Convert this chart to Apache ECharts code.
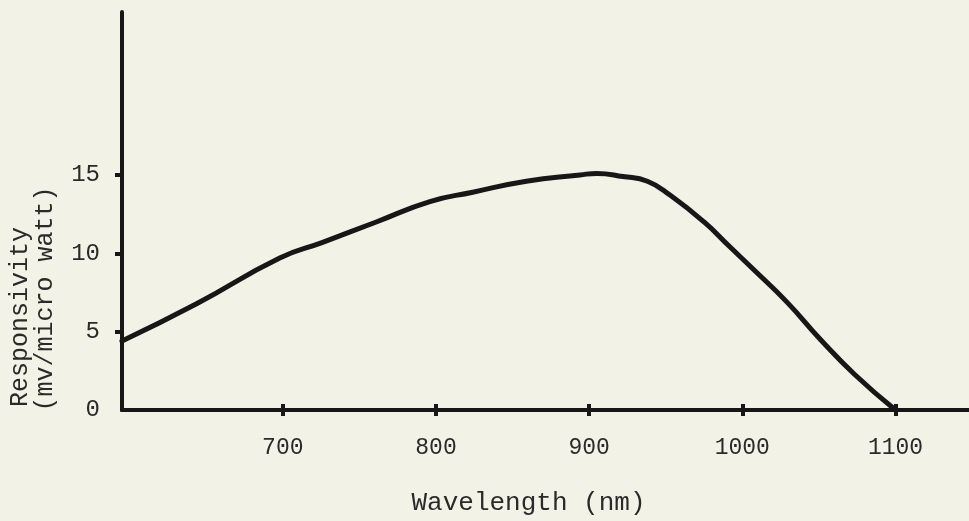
<!DOCTYPE html>
<html>
<head>
<meta charset="utf-8">
<script src="https://cdn.jsdelivr.net/npm/echarts@6/dist/echarts.min.js"></script>
<style>
html,body{margin:0;padding:0;background:#f3f2e7;}
#c{width:969px;height:521px;}
</style>
</head>
<body>
<div id="c"></div>
<script>
// Data
var wavelength = [595, 644, 698, 726, 761, 796, 824, 859, 894, 905, 922, 938, 953, 975, 992, 1007, 1029, 1051, 1073, 1100];
var responsivity = [4.4, 6.8, 9.7, 10.7, 12.0, 13.3, 13.9, 14.6, 15.0, 15.1, 14.9, 14.6, 13.7, 12.0, 10.4, 9.0, 6.9, 4.5, 2.3, 0];
var xTicks = [700, 800, 900, 1000, 1100];
var yTickLabels = [0, 5, 10, 15];
var yTicks = [5, 10, 15];
var xTitle = 'Wavelength (nm)';
var yTitle1 = 'Responsivity';
var yTitle2 = '(mv/micro watt)';

var ink = '#171717';
var font = '"Liberation Mono", "DejaVu Sans Mono", monospace';
var points = wavelength.map(function (w, i) { return [w, responsivity[i]]; });

var chart = echarts.init(document.getElementById('c'), null, {renderer: 'canvas'});
chart.setOption({
  backgroundColor: '#f3f2e7',
  animation: false,
  grid: {left: 122, top: 12, right: 0, bottom: 109, containLabel: false},
  xAxis: [{
    type: 'value', min: 595, max: 1148, position: 'bottom',
    axisLine: {show: true, onZero: false, lineStyle: {color: ink, width: 4}},
    axisTick: {show: true, customValues: xTicks, length: 6, lineStyle: {color: ink, width: 4}},
    axisLabel: {customValues: xTicks, color: '#2a2a2a', fontFamily: font, fontSize: 23, margin: 26,
                formatter: function (v) { return String(v); }},
    splitLine: {show: false},
    name: xTitle, nameLocation: 'middle', nameGap: 80,
    nameTextStyle: {color: '#2a2a2a', fontFamily: font, fontSize: 26, padding: [0, 34, 0, 0]}
  }, {
    type: 'value', min: 595, max: 1148, position: 'top',
    axisLine: {show: true, onZero: true, lineStyle: {color: ink, width: 4}},
    axisTick: {show: true, customValues: xTicks, length: 6, lineStyle: {color: ink, width: 4}},
    axisLabel: {show: false},
    splitLine: {show: false}
  }],
  yAxis: {
    type: 'value', min: 0, max: 25.4,
    axisLine: {show: true, lineStyle: {color: ink, width: 4}},
    axisTick: {show: true, customValues: yTicks, length: 7, lineStyle: {color: ink, width: 4}},
    axisLabel: {customValues: yTickLabels, color: '#2a2a2a', fontFamily: font, fontSize: 24, margin: 22},
    splitLine: {show: false}
  },
  graphic: [
    {type: 'text', x: 20, y: 317, rotation: Math.PI / 2,
     style: {text: yTitle1, fill: '#2a2a2a', font: '25px ' + font, textAlign: 'center', textVerticalAlign: 'middle'}},
    {type: 'text', x: 45, y: 299, rotation: Math.PI / 2,
     style: {text: yTitle2, fill: '#2a2a2a', font: '25px ' + font, textAlign: 'center', textVerticalAlign: 'middle'}}
  ],
  series: [{
    type: 'line', xAxisIndex: 0, data: points, smooth: 0.5,
    showSymbol: false, symbol: 'none',
    lineStyle: {color: ink, width: 5, cap: 'round', join: 'round'}
  }]
});
</script>
</body>
</html>
